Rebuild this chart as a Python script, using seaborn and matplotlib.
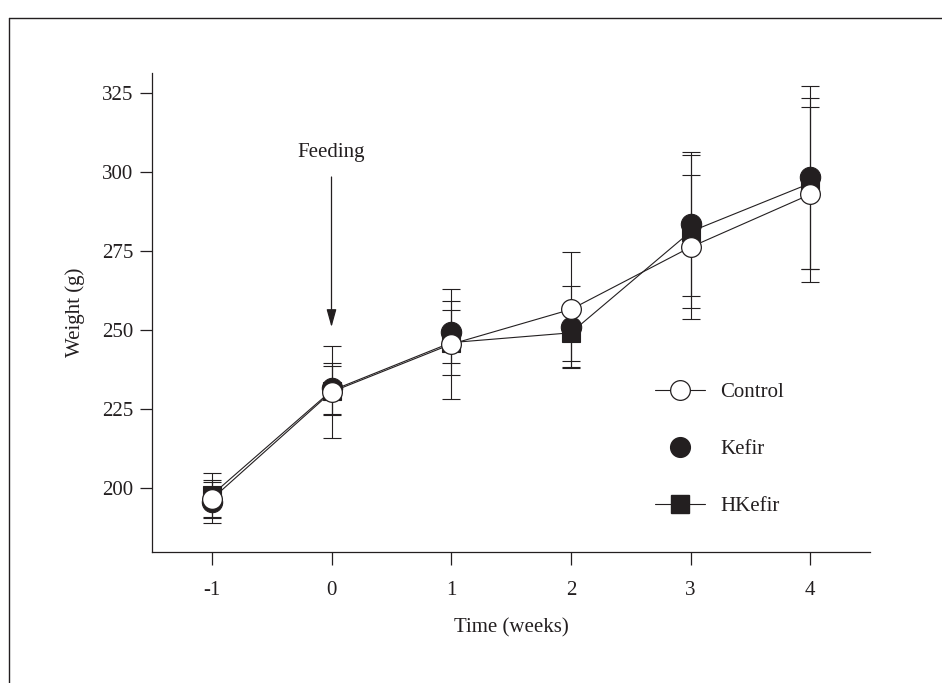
import numpy as np
import pandas as pd
import seaborn as sns
import matplotlib
matplotlib.use("Agg")
import matplotlib.pyplot as plt
from matplotlib.lines import Line2D

# Body weight (g) by week, mean and SD for each diet group
weeks = [-1, 0, 1, 2, 3, 4]
control_mean = [196.5, 230.4, 245.5, 256.5, 276.2, 292.9]
control_sd = [6.0, 14.5, 17.4, 18.1, 22.8, 27.6]
kefir_mean = [195.5, 231.5, 249.5, 251.0, 283.5, 298.3]
kefir_sd = [6.5, 8.2, 9.8, 13.0, 22.9, 28.9]
hkefir_mean = [197.8, 230.8, 246.0, 249.1, 281.1, 296.4]
hkefir_sd = [7.0, 7.8, 10.2, 8.9, 24.3, 27.0]

groups = ["Control", "Kefir", "HKefir"]
y_ticks = [200, 225, 250, 275, 300, 325]
feeding_week = 0

INK = "#231f20"
FS = 15

sns.set_theme(style="ticks")
plt.rcParams["font.family"] = ["Liberation Serif", "DejaVu Serif"]
plt.rcParams.update({
    "axes.edgecolor": INK,
    "axes.linewidth": 0.9,
    "xtick.color": INK,
    "ytick.color": INK,
    "xtick.major.size": 9,
    "ytick.major.size": 8.5,
    "xtick.major.width": 0.9,
    "ytick.major.width": 0.9,
    "xtick.direction": "out",
    "ytick.direction": "out",
    "text.color": INK,
    "axes.labelcolor": INK,
})

df = pd.DataFrame({
    "week": weeks * 3,
    "weight": control_mean + kefir_mean + hkefir_mean,
    "sd": control_sd + kefir_sd + hkefir_sd,
    "group": np.repeat(groups, len(weeks)),
})

fig = plt.figure(figsize=(9.42, 6.83), dpi=100)
ax = fig.add_axes([152 / 942, 1 - 552 / 683, (870 - 152) / 942, (552 - 73) / 683])

# Error bars first so the markers sit on top of them
for g in groups:
    d = df[df["group"] == g]
    ax.errorbar(d["week"], d["weight"], yerr=d["sd"], fmt="none",
                ecolor=INK, elinewidth=0.8, capsize=6.5, capthick=0.8, zorder=1)

kef = df[df["group"] == "Kefir"]
sns.scatterplot(data=kef, x="week", y="weight", ax=ax, marker="o", s=215,
                color=INK, edgecolor=INK, linewidth=0.8, zorder=2, legend=False)

hk = df[df["group"] == "HKefir"]
sns.lineplot(data=hk, x="week", y="weight", ax=ax, color=INK, linewidth=0.8,
             marker="s", markersize=13.5, markerfacecolor=INK, markeredgecolor=INK,
             markeredgewidth=0.8, zorder=3, legend=False)

ctl = df[df["group"] == "Control"]
sns.lineplot(data=ctl, x="week", y="weight", ax=ax, color=INK, linewidth=0.8,
             marker="o", markersize=14.2, markerfacecolor="white",
             markeredgecolor=INK, markeredgewidth=0.9, zorder=4, legend=False)

ax.set_xlim(-1.5, 4.5)
ax.set_ylim(179.75, 331.3)
ax.set_xticks(weeks)
ax.set_xticklabels([str(w) for w in weeks])
ax.set_yticks(y_ticks)
ax.tick_params(axis="x", labelsize=FS, pad=12)
ax.tick_params(axis="y", labelsize=FS, pad=5)
ax.set_xlabel("Time (weeks)", fontsize=FS, labelpad=13)
ax.set_ylabel("Weight (g)", fontsize=FS, labelpad=12)
sns.despine(ax=ax)

# Start-of-feeding marker
ax.annotate("", xy=(feeding_week, 250.9), xytext=(feeding_week, 298.4),
            arrowprops=dict(arrowstyle="-|>,head_length=0.9,head_width=0.25",
                            color=INK, lw=0.9, shrinkA=0, shrinkB=0))
ax.text(feeding_week, 306.3, "Feeding", ha="center", va="center", fontsize=FS)

handles = [
    Line2D([], [], color=INK, lw=0.8, marker="o", markersize=14.2,
           markerfacecolor="white", markeredgecolor=INK, markeredgewidth=0.9),
    Line2D([], [], color=INK, lw=0, linestyle="none", marker="o", markersize=14.2,
           markerfacecolor=INK, markeredgecolor=INK),
    Line2D([], [], color=INK, lw=0.8, marker="s", markersize=13.5,
           markerfacecolor=INK, markeredgecolor=INK),
]
ax.legend(handles, groups, loc="upper left",
          bbox_to_anchor=(645 / 942, 1 - 372 / 683), bbox_transform=fig.transFigure,
          frameon=False, borderpad=0, handlelength=2.4, handletextpad=0.7,
          labelspacing=1.8, fontsize=FS)

# Page frame around the figure
fig.add_artist(Line2D([9 / 942, 9 / 942], [0, 1 - 18 / 683], transform=fig.transFigure,
                      color=INK, lw=1.0))
fig.add_artist(Line2D([9 / 942, 1], [1 - 18 / 683, 1 - 18 / 683], transform=fig.transFigure,
                      color=INK, lw=1.0))

fig.savefig("out.png", dpi=100)
